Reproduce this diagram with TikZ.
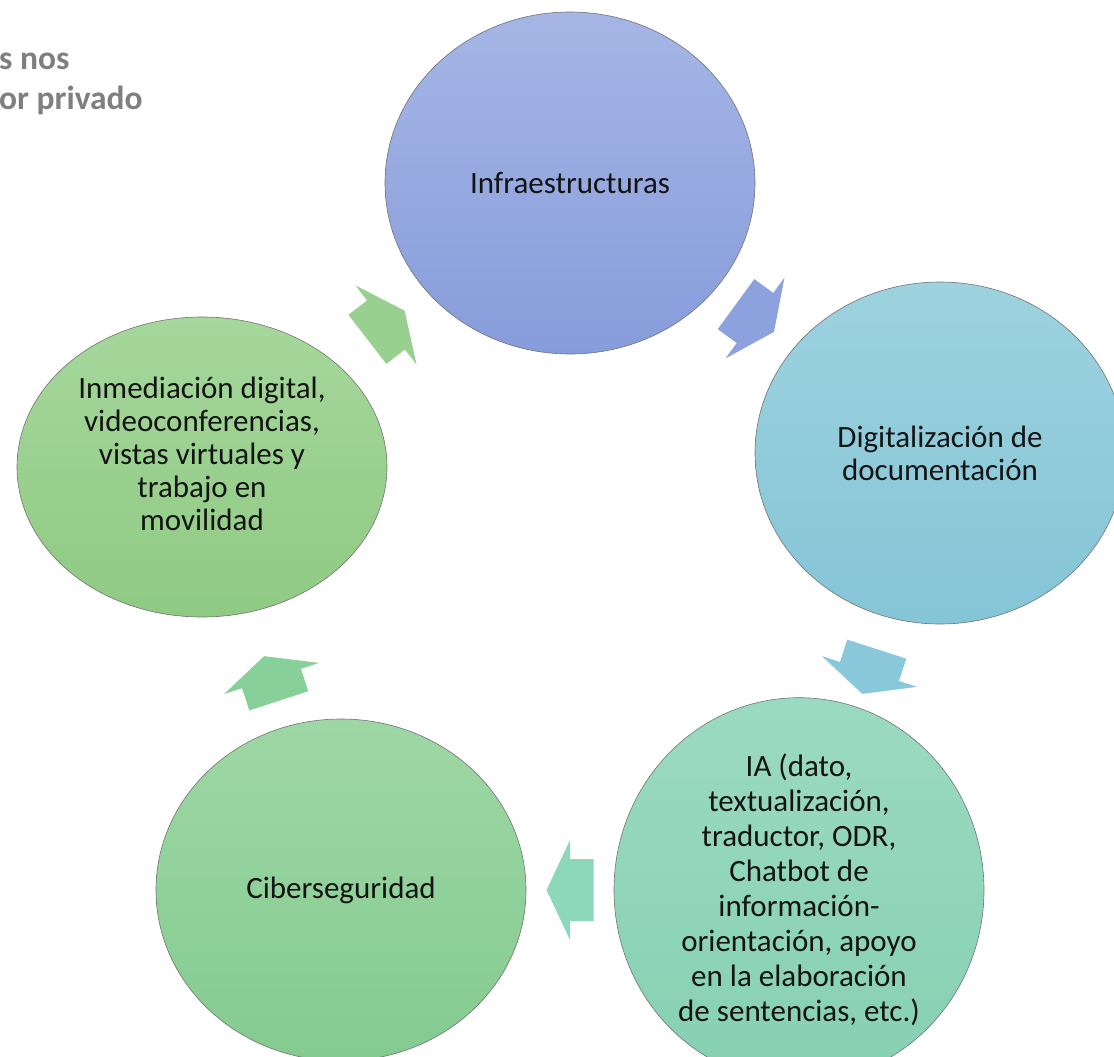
\documentclass[tikz,border=0pt]{standalone}
\usepackage{fontspec}
\setmainfont{Carlito}
\usetikzlibrary{shapes.geometric,calc}
\definecolor{txt}{HTML}{141414}
\definecolor{graytxt}{HTML}{7F7F7F}
\definecolor{c1t}{HTML}{A5B6E5}\definecolor{c1b}{HTML}{879CDB}
\definecolor{c2t}{HTML}{9DD2DE}\definecolor{c2b}{HTML}{84C5D7}
\definecolor{c3t}{HTML}{9BDAC2}\definecolor{c3b}{HTML}{86D0B2}
\definecolor{c4t}{HTML}{9ED7A5}\definecolor{c4b}{HTML}{84CB90}
\definecolor{c5t}{HTML}{A6D79C}\definecolor{c5b}{HTML}{8FCA83}
\definecolor{a1}{HTML}{8DA1DE}
\definecolor{a2}{HTML}{88C8DA}
\definecolor{a3}{HTML}{8DD8BA}
\definecolor{a4}{HTML}{88D09A}
\definecolor{a5}{HTML}{98D08F}
\tikzset{
  bubble/.style={ellipse, minimum width=370pt, minimum height=342pt, inner sep=0pt,
    draw=black!55, line width=0.6pt, align=center, text=txt,
    font=\fontsize{31}{33}\selectfont},
  cornertext/.style={anchor=base west, inner sep=0pt, text=graytxt,
    font=\fontsize{33.5}{38}\selectfont\bfseries},
}
\newcommand\cyclearrow[3]{%
  \path[fill=#3] let \p1=($(#2)-(#1)$), \n1={atan2(\y1,\x1)}, \p2=($(#1)!0.5!(#2)$) in
    ($(\p2)+(\n1:23.5pt)$)
    -- ($(\p2)+(\n1+90:50pt)$)
    -- ($(\p2)+(\n1+90:31pt)$)
    -- ($(\p2)+(\n1+90:31pt)+(\n1+180:23.5pt)$)
    -- ($(\p2)+(\n1-90:31pt)+(\n1+180:23.5pt)$)
    -- ($(\p2)+(\n1-90:31pt)$)
    -- ($(\p2)+(\n1-90:50pt)$) -- cycle;
}
\begin{document}
\begin{tikzpicture}[x=1pt,y=-1pt]
\useasboundingbox (0,0) rectangle (1114,1057);
\clip (0,0) rectangle (1114,1057);
\fill[white] (0,0) rectangle (1114,1057);

\node[cornertext] (t1) at (-1,70) {s nos};
\node[cornertext] (t2) at (-1,110) {or privado};

\node[bubble, top color=c1t, bottom color=c1b] (infra) at (570,183) {Infraestructuras};
\node[bubble, top color=c2t, bottom color=c2b] (digit) at (940,453) {Digitalización de\\documentación};
\node[bubble, top color=c3t, bottom color=c3b, font=\fontsize{31}{35}\selectfont] (ia) at (799,890) {IA (dato,\\textualización,\\traductor, ODR,\\Chatbot de\\información-\\orientación, apoyo\\en la elaboración\\de sentencias, etc.)};
\node[bubble, top color=c4t, bottom color=c4b] (ciber) at (341,890) {Ciberseguridad};
\node[bubble, minimum height=300pt, text depth=27pt, top color=c5t, bottom color=c5b] (inmed) at (202,467) {Inmediación digital,\\videoconferencias,\\vistas virtuales y\\trabajo en\\movilidad};

\cyclearrow{infra}{digit}{a1}
\cyclearrow{digit}{ia}{a2}
\cyclearrow{ia}{ciber}{a3}
\cyclearrow{ciber}{inmed}{a4}
\cyclearrow{inmed}{infra}{a5}
\end{tikzpicture}
\end{document}
